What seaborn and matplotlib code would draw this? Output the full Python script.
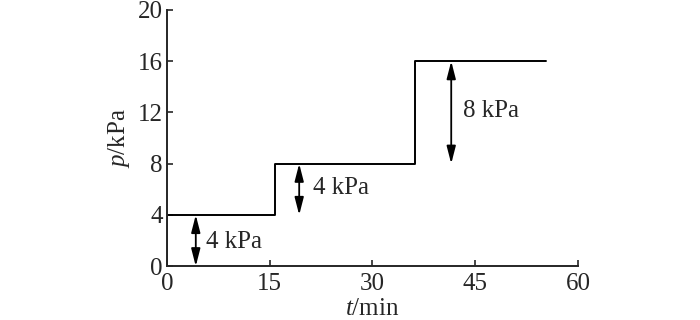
import matplotlib
matplotlib.use("Agg")
import matplotlib.pyplot as plt
import seaborn as sns
import pandas as pd

# data
t_vals = [0, 0, 15.8, 36.2, 55.4]
p_vals = [0, 4, 8, 16, 16]
arrow_t = [4.2, 19.3, 41.5]
arrow_lo = [0, 4, 8]
arrow_hi = [4, 8, 16]
label_texts = ["4 kPa", "4 kPa", "8 kPa"]
label_t = [5.7, 21.3, 43.2]
label_p = [1.9, 6.1, 12.1]
x_ticks = [0, 15, 30, 45, 60]
y_ticks = [0, 4, 8, 12, 16, 20]

sns.set_style("ticks")
plt.rcParams["font.family"] = ["Liberation Serif", "DejaVu Serif"]
plt.rcParams["mathtext.fontset"] = "custom"
plt.rcParams["mathtext.it"] = "Liberation Serif:italic"
plt.rcParams["mathtext.rm"] = "Liberation Serif"

FS = 18

fig = plt.figure(figsize=(7, 3.2), dpi=100)
ax = fig.add_axes([0.2386, 0.168, 0.587, 0.801])

df = pd.DataFrame({"t": t_vals, "p": p_vals})
sns.lineplot(data=df, x="t", y="p", sort=False, estimator=None,
             drawstyle="steps-post", color="black", lw=1.4, ax=ax)

for x, lo, hi in zip(arrow_t, arrow_lo, arrow_hi):
    ax.annotate("", xy=(x, lo), xytext=(x, hi),
                arrowprops=dict(arrowstyle="<|-|>,head_length=1.05,head_width=0.27",
                                mutation_scale=10, color="black", lw=1.3,
                                shrinkA=0, shrinkB=0))
for s, x, y in zip(label_texts, label_t, label_p):
    ax.text(x, y, s, fontsize=FS, va="center", ha="left")

ax.set_xlim(0, 60)
ax.set_ylim(0, 20)
ax.set_xticks(x_ticks)
ax.set_yticks(y_ticks)
ax.tick_params(direction="in", length=4, width=1.2, labelsize=FS)
ax.tick_params(axis="x", pad=5)
ax.tick_params(axis="y", pad=3)
ax.set_xlabel("$t$/min", fontsize=FS, labelpad=2)
ax.set_ylabel("$p$/kPa", fontsize=FS, labelpad=4)
for sp in ["top", "right"]:
    ax.spines[sp].set_visible(False)
for sp in ["left", "bottom"]:
    ax.spines[sp].set_linewidth(1.4)

fig.savefig("out.png", dpi=100)
